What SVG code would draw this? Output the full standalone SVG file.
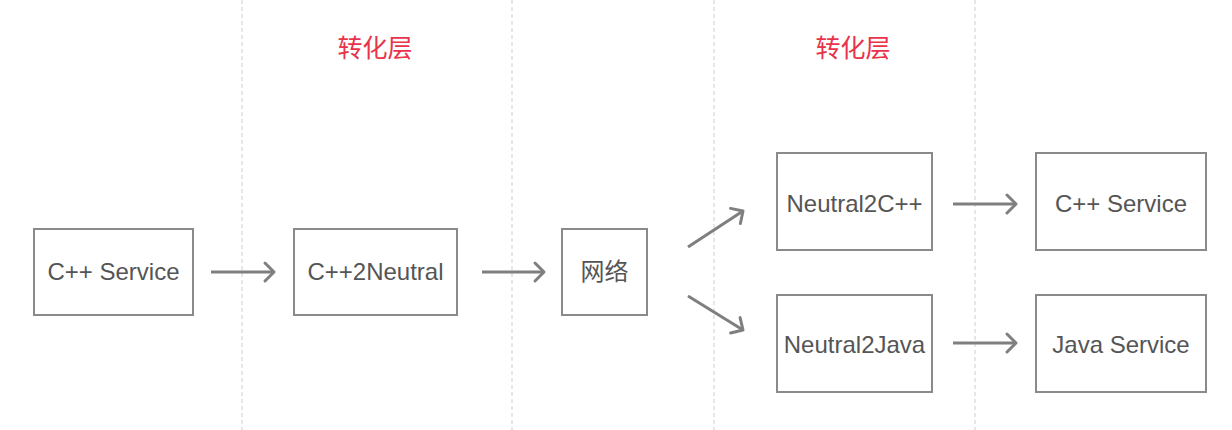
<svg xmlns="http://www.w3.org/2000/svg" width="1232" height="430" viewBox="0 0 1232 430">
<style>
.box{fill:#fff;stroke:#8a8a8a;stroke-width:2}
.t{font-family:"Liberation Sans","Noto Sans CJK SC",sans-serif;font-size:24px;fill:#555;text-anchor:middle;dominant-baseline:central}
.h{font-family:"Noto Sans CJK SC",sans-serif;font-size:25px;fill:#e8334a;text-anchor:middle;dominant-baseline:central}
.div{stroke:#d6d6d6;stroke-width:1.2;stroke-dasharray:4 3}
.c{stroke:#7f7f7f;stroke-width:3;fill:none;marker-end:url(#ah)}
</style>
<defs>
<marker id="ah" markerUnits="userSpaceOnUse" markerWidth="30" markerHeight="30" refX="0" refY="0" viewBox="-15 -15 30 30" orient="auto" overflow="visible">
<path d="M-9,-9 L0,0 L-9,9" fill="none" stroke="#7f7f7f" stroke-width="3" stroke-linecap="round" stroke-linejoin="round"/>
</marker>
</defs>
<rect width="1232" height="430" fill="#fff"/>
<g id="dividers">
<line class="div" x1="242" y1="0" x2="242" y2="430"/>
<line class="div" x1="512" y1="0" x2="512" y2="430"/>
<line class="div" x1="714" y1="0" x2="714" y2="430"/>
<line class="div" x1="975" y1="0" x2="975" y2="430"/>
</g>
<g id="label1"><text class="h" x="375" y="46">转化层</text></g>
<g id="label2"><text class="h" x="853" y="46">转化层</text></g>
<g id="n1"><rect class="box" x="34" y="229" width="159" height="86"/><text class="t" x="113.5" y="271">C++ Service</text></g>
<g id="n2"><rect class="box" x="294" y="229" width="163" height="86"/><text class="t" x="375.5" y="271">C++2Neutral</text></g>
<g id="n3"><rect class="box" x="562" y="229" width="85" height="86"/><text class="t" x="604.5" y="271">网络</text></g>
<g id="n4"><rect class="box" x="777" y="153" width="155" height="97"/><text class="t" x="854.5" y="203">Neutral2C++</text></g>
<g id="n5"><rect class="box" x="777" y="295" width="155" height="97"/><text class="t" x="854.5" y="344">Neutral2Java</text></g>
<g id="n6"><rect class="box" x="1036" y="153" width="170" height="97"/><text class="t" x="1121" y="203">C++ Service</text></g>
<g id="n7"><rect class="box" x="1036" y="295" width="170" height="97"/><text class="t" x="1121" y="344">Java Service</text></g>
<g id="connectors">
<line class="c" x1="211" y1="272" x2="274" y2="272"/>
<line class="c" x1="482" y1="272" x2="544" y2="272"/>
<line class="c" x1="688" y1="247" x2="743" y2="211"/>
<line class="c" x1="688" y1="296" x2="743" y2="330"/>
<line class="c" x1="953" y1="204" x2="1016" y2="204"/>
<line class="c" x1="953" y1="343" x2="1016" y2="343"/>
</g>
</svg>
